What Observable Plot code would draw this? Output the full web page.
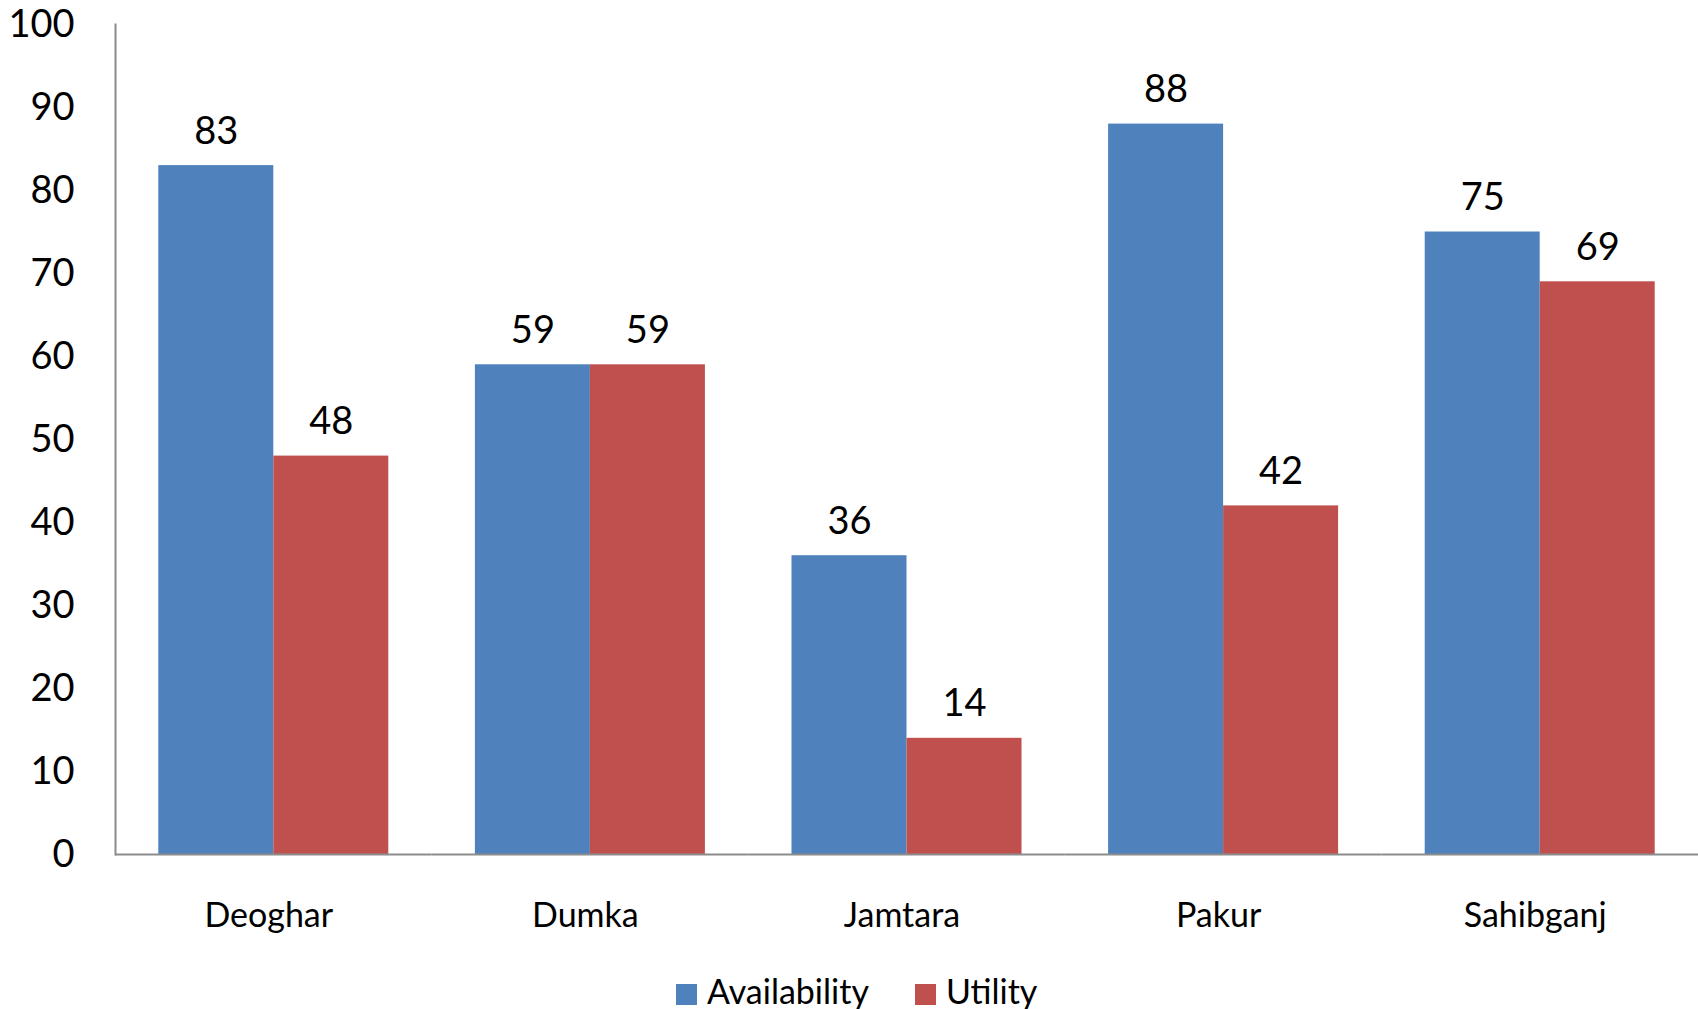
<!DOCTYPE html>
<html>
<head>
<meta charset="utf-8">
<script src="https://cdn.jsdelivr.net/npm/d3@7"></script>
<script src="https://cdn.jsdelivr.net/npm/@observablehq/plot@0.6"></script>
<style>
  html, body { margin: 0; padding: 0; background: #fff; overflow: hidden; }
  body { width: 1698px; height: 1009px; font-family: "Lato", sans-serif; }
  #legend { display: flex; align-items: flex-start; padding-top: 10px; margin-left: 676px; font-size: 34px; line-height: 41px; color: #000; }
  #legend .sw { width: 21px; height: 21px; margin-top: 14px; margin-right: 10px; }
  #legend .item { display: flex; align-items: flex-start; margin-right: 46px; }
</style>
</head>
<body>
<div id="chart"></div>
<div id="legend"></div>
<script>
const districts = ["Deoghar", "Dumka", "Jamtara", "Pakur", "Sahibganj"];
const seriesNames = ["Availability", "Utility"];
const availability = [83, 59, 36, 88, 75];
const utility = [48, 59, 14, 42, 69];
const seriesColors = ["#4F81BD", "#C0504D"];
const yTicks = [0, 10, 20, 30, 40, 50, 60, 70, 80, 90, 100];

const rows = [];
districts.forEach((d, i) => {
  rows.push({district: d, series: seriesNames[0], value: availability[i]});
  rows.push({district: d, series: seriesNames[1], value: utility[i]});
});

const chart = Plot.plot({
  width: 1698,
  height: 960,
  marginTop: 24,
  marginBottom: 106,
  marginLeft: 115,
  marginRight: 0,
  style: {fontFamily: "Lato, sans-serif", color: "#000", background: "#fff"},
  fx: {domain: districts, padding: 0, round: false},
  x: {domain: seriesNames, paddingInner: 0, paddingOuter: 0.3765, round: false, axis: null},
  y: {domain: [0, 100], axis: null},
  color: {domain: seriesNames, range: seriesColors},
  marks: [
    Plot.barY(rows, {fx: "district", x: "series", y: "value", fill: "series"}),
    Plot.ruleY([0], {stroke: "#8c8c8c", strokeWidth: 2}),
    Plot.frame({anchor: "left", stroke: "#8c8c8c", strokeWidth: 2, facetAnchor: "left"}),
    Plot.text(rows, {fx: "district", x: "series", y: "value", text: d => String(d.value), dy: -34, fontSize: 38, fill: "#000"}),
    Plot.axisY({ticks: yTicks, tickSize: 0, tickPadding: 41, fontSize: 38, label: null, tickFormat: d => String(d)}),
    Plot.axisFx({anchor: "bottom", tickSize: 0, tickPadding: 48, fontSize: 34, dx: -5, label: null})
  ]
});
document.getElementById("chart").appendChild(chart);

const legend = document.getElementById("legend");
seriesNames.forEach((name, i) => {
  const item = document.createElement("div");
  item.className = "item";
  const sw = document.createElement("div");
  sw.className = "sw";
  sw.style.background = seriesColors[i];
  const label = document.createElement("span");
  label.textContent = name;
  item.appendChild(sw);
  item.appendChild(label);
  legend.appendChild(item);
});
</script>
</body>
</html>
